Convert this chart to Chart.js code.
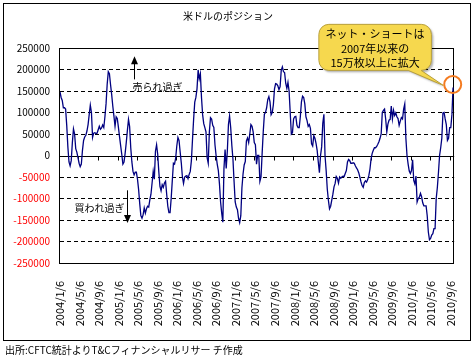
<!DOCTYPE html>
<html lang="ja">
<head>
<meta charset="utf-8">
<title>米ドルのポジション</title>
<script src="https://cdn.jsdelivr.net/npm/chart.js@4.4.0/dist/chart.umd.min.js"></script>
<style>
  html, body { margin: 0; padding: 0; background: #fff; }
  #wrap { position: relative; width: 474px; height: 362px; }
  #chart { position: absolute; left: 0; top: 0; }
  #frame { position: absolute; left: 3px; top: 3px; width: 466px; height: 336px; border: 1px solid #000; pointer-events: none; }
  #source { position: absolute; left: 5px; top: 344px; font: 10px/12px "Noto Sans CJK JP", sans-serif; color: #000; white-space: nowrap; }
</style>
</head>
<body>
<div id="wrap">
  <canvas id="chart" width="474" height="362"></canvas>
  <div id="frame"></div>
  <div id="source">出所:CFTC統計よりT&amp;Cフィナンシャルリサー チ作成</div>
</div>
<script>
// データ (週次、2004/1/6 から)
const startDate = '2004/1/6';
const dateLabels = [
  '2004/1/6', '2004/5/6', '2004/9/6', '2005/1/6', '2005/5/6', '2005/9/6', '2006/1/6',
  '2006/5/6', '2006/9/6', '2007/1/6', '2007/5/6', '2007/9/6', '2008/1/6', '2008/5/6',
  '2008/9/6', '2009/1/6', '2009/5/6', '2009/9/6', '2010/1/6', '2010/5/6', '2010/9/6'
];
const yTicks = [250000, 200000, 150000, 100000, 50000, 0, -50000, -100000, -150000, -200000, -250000];

// 米ドルのネットポジション(枚)
const netPosition = [
  148000, 135000, 128000, 111000, 111000, 108000, 70000, 20000, -15000, -24000,
  -12000, 30000, 62000, 50000, 16000, 8000, -5000, -18000, -26000, -20000,
  12000, 35000, 43000, 47000, 57000, 72000, 95000, 117000, 100000, 42000,
  52000, 53000, 51000, 52000, 60000, 68000, 61000, 64000, 71000, 65000,
  90000, 120000, 165000, 195000, 190000, 165000, 142000, 115000, 92000, 68000,
  90000, 86000, 66000, 44000, 23000, 3000, -20000, -15000, 5000, 30000,
  58000, 84000, 67000, 18000, -15000, -37000, -45000, -39000, -39000, -55000,
  -79000, -112000, -140000, -146000, -138000, -122000, -134000, -124000, -118000, -120000,
  -103000, -90000, -64000, -37000, -55000,
  10000, 25000, 3000, -38000, -72000, -82000, -68000, -74000, -64000, -60000,
  -90000, -118000, -133000, -133000, -100000, -58000, -18000, -20000, -6000, 22000,
  42000, 35000, 8000, -17000, -50000, -65000, -50000, -48000, -47000, -54000,
  -44000, -37000, -12000, 38000, 85000, 124000, 135000, 155000, 199000, 178000,
  190000, 135000, 95000, 74000, 65000, 55000, -5000, -18000, 55000, 88000,
  85000, 70000, 65000, 25000, 0, -20000, -35000, -66000, -108000, -134000,
  -155000, -30000, 14000, -30000, 10000, 72000, 92000, 65000, 24000, -8000,
  -60000, -108000, -120000, -126000, -146000, -156000, -140000, -75000, -43000, -22000,
  -14000, 34000, 41000, 30000, 50000, 72000,
  68000, 55000, 30000, 25000, -20000, 0, 0, -60000, -50000, 5000,
  56000, 96000, 100000, 111000, 130000, 137000, 125000, 95000, 100000, 118000,
  155000, 167000, 166000, 162000, 153000, 160000, 198000, 206000, 195000, 193000,
  168000, 156000, 170000, 150000, 100000, 50000, 53000, 85000, 90000, 91000,
  70000, 65000, 65000, 90000, 125000, 138000, 135000, 120000, 90000, 81000,
  68000, 72000, 63000, 27000, 22000, 46000, 40000, 28000, 12000, -15000,
  -40000, 0, 20000, 75000, 96000, 0, -35000, -78000, -104000, -124000,
  -118000, -104000, -90000, -73000, -65000, -49000, -53000, -64000, -50000, -53000,
  -50000, -48000, -49000, -42000, -35000, -15000,
  -9000, -12000, -18000, -18000, -17000, -18000, -24000, -29000, -33000, -40000,
  -50000, -61000, -70000, -74000, -63000, -59000, -62000, -56000, -47000, -32000,
  -8000, 5000, 12000, 18000, 18000, 21000, 26000, 32000, 40000, 50000,
  100000, 105000, 108000, 85000, 55000, 73000, 82000, 84000, 115000, 85000,
  105000, 93000, 99000, 90000, 86000, 70000, 80000, 88000, 85000, 108000,
  120000, 40000, 0, -20000, -36000, -42000, -35000, -10000, -58000, -66000,
  -48000, -108000, -100000, -97000, -88000, -96000, -110000, -117000, -117000, -117000,
  -140000, -178000, -196000, -193000, -185000, -182000, -170000, -170000, -100000, -75000,
  -40000, 0, 18000, 40000, 99000, 100000, 85000, 72000, 35000, 40000,
  65000, 65000, 95000, 158000
];

const calloutLines = ['ネット・ショートは', '2007年以来の', '15万枚以上に拡大'];

const fontFamily = '"Noto Sans CJK JP", "Noto Sans", sans-serif';
Chart.defaults.font.family = fontFamily;
Chart.defaults.color = '#000';

// 目盛りの位置 (開始日からの週数)
const WEEK = 7 * 24 * 60 * 60 * 1000;
const t0 = new Date(startDate).getTime();
const tickWeeks = dateLabels.map(d => (new Date(d).getTime() - t0) / WEEK);
const points = netPosition.map((v, i) => ({ x: i, y: v }));

// 注記の位置 (x = 週, y = 枚数)
const notes = {
  soldArrow: { week: 66.2, from: 177000, to: 231000 },
  soldText: { week: 64.5, value: 158000 },
  boughtText: { week: 57.5, value: -123000 },
  boughtArrow: { week: 59.5, from: -81000, to: -157000 },
  callout: { left: 230.5, right: 330.7, top: 305000, bottom: 198000, tail1: 310, tail2: 321.5, tipWeek: 341.3, tipValue: 163000 },
  circle: { week: 349.7, value: 165000 }
};

function drawArrow(ctx, px, yFrom, yTo) {
  const dir = yTo < yFrom ? -1 : 1;
  ctx.beginPath();
  ctx.moveTo(px, yFrom);
  ctx.lineTo(px, yTo - dir * 6);
  ctx.stroke();
  ctx.beginPath();
  ctx.moveTo(px, yTo);
  ctx.lineTo(px - 3.5, yTo - dir * 8);
  ctx.lineTo(px + 3.5, yTo - dir * 8);
  ctx.closePath();
  ctx.fill();
}

const overlay = {
  id: 'overlay',
  beforeDatasetsDraw(chart) {
    const { ctx, chartArea: a, scales: { x, y } } = chart;
    ctx.save();
    ctx.strokeStyle = '#000';
    ctx.lineWidth = 1;
    ctx.setLineDash([]);
    ctx.strokeRect(Math.round(a.left) - 0.5, Math.round(a.top) + 0.5,
      Math.round(a.right - a.left), Math.round(a.bottom - a.top));
    // ゼロ線と目盛り
    const y0 = Math.round(y.getPixelForValue(0)) + 0.5;
    ctx.beginPath();
    ctx.moveTo(a.left, y0);
    ctx.lineTo(a.right, y0);
    tickWeeks.forEach(w => {
      const px = Math.round(x.getPixelForValue(w)) - 0.5;
      ctx.moveTo(px, y0);
      ctx.lineTo(px, y0 + 4);
    });
    ctx.stroke();
    ctx.restore();
  },
  afterDraw(chart) {
    const { ctx, scales: { x, y } } = chart;
    ctx.save();
    ctx.strokeStyle = '#000';
    ctx.fillStyle = '#000';
    ctx.lineWidth = 1;

    // 売られ過ぎ / 買われ過ぎ
    let n = notes.soldArrow;
    drawArrow(ctx, Math.round(x.getPixelForValue(n.week)) + 0.5, y.getPixelForValue(n.from), y.getPixelForValue(n.to));
    n = notes.boughtArrow;
    drawArrow(ctx, Math.round(x.getPixelForValue(n.week)) + 0.5, y.getPixelForValue(n.from), y.getPixelForValue(n.to));
    ctx.font = '10px ' + fontFamily;
    ctx.textBaseline = 'middle';
    ctx.textAlign = 'left';
    ctx.fillText('売られ過ぎ', x.getPixelForValue(notes.soldText.week), y.getPixelForValue(notes.soldText.value));
    ctx.textAlign = 'right';
    ctx.fillText('買われ過ぎ', x.getPixelForValue(notes.boughtText.week), y.getPixelForValue(notes.boughtText.value));

    // 吹き出し
    const c = notes.callout;
    const L = x.getPixelForValue(c.left), R = x.getPixelForValue(c.right);
    const T = y.getPixelForValue(c.top), B = y.getPixelForValue(c.bottom);
    const t1 = x.getPixelForValue(c.tail1), t2 = x.getPixelForValue(c.tail2);
    const tipX = x.getPixelForValue(c.tipWeek), tipY = y.getPixelForValue(c.tipValue);
    const r = 10;
    ctx.beginPath();
    ctx.moveTo(L + r, T);
    ctx.lineTo(R - r, T);
    ctx.arcTo(R, T, R, T + r, r);
    ctx.lineTo(R, B - r);
    ctx.arcTo(R, B, R - r, B, r);
    ctx.lineTo(t2, B);
    ctx.lineTo(tipX, tipY);
    ctx.lineTo(t1, B);
    ctx.lineTo(L + r, B);
    ctx.arcTo(L, B, L, B - r, r);
    ctx.lineTo(L, T + r);
    ctx.arcTo(L, T, L + r, T, r);
    ctx.closePath();
    ctx.shadowColor = 'rgba(0,0,0,0.3)';
    ctx.shadowOffsetX = 2;
    ctx.shadowOffsetY = 2;
    ctx.shadowBlur = 2;
    ctx.fillStyle = '#F6D84E';
    ctx.fill();
    ctx.shadowColor = 'transparent';
    ctx.strokeStyle = '#B89F3A';
    ctx.stroke();

    ctx.fillStyle = '#000';
    ctx.font = '11px ' + fontFamily;
    ctx.textAlign = 'center';
    const cx = (L + R) / 2, cy = (T + B) / 2 + 1;
    calloutLines.forEach((line, i) => ctx.fillText(line, cx, cy + (i - 1) * 14.7));

    // 丸印
    ctx.beginPath();
    ctx.arc(x.getPixelForValue(notes.circle.week), y.getPixelForValue(notes.circle.value), 8.5, 0, Math.PI * 2);
    ctx.strokeStyle = '#F47B20';
    ctx.lineWidth = 2;
    ctx.stroke();
    ctx.restore();
  }
};

const ctx = document.getElementById('chart').getContext('2d');
const myChart = new Chart(ctx, {
  type: 'line',
  data: {
    datasets: [{
      label: '米ドル',
      data: points,
      borderColor: '#000080',
      borderWidth: 1.3,
      pointRadius: 0,
      tension: 0,
      fill: false
    }]
  },
  options: {
    responsive: false,
    animation: false,
    layout: { padding: { left: 0, right: 18, top: 0, bottom: 0 } },
    plugins: {
      legend: { display: false },
      tooltip: { enabled: false },
      title: {
        display: true,
        text: '米ドルのポジション',
        color: '#000',
        font: { size: 10, weight: 'normal' },
        padding: { top: 10, bottom: 26 }
      }
    },
    scales: {
      x: {
        type: 'linear',
        min: 0,
        max: 351,
        afterFit: s => { s.height = 99; },
        afterBuildTicks: s => { s.ticks = tickWeeks.map(v => ({ value: v })); },
        grid: { display: false },
        border: { display: false },
        ticks: {
          autoSkip: false,
          minRotation: 90,
          maxRotation: 90,
          padding: 10,
          font: { size: 11 },
          color: '#000',
          callback: (value, index) => dateLabels[index]
        }
      },
      y: {
        min: -250000,
        max: 250000,
        afterFit: s => { s.width = 60; },
        afterBuildTicks: s => { s.ticks = yTicks.map(v => ({ value: v })); },
        grid: {
          drawTicks: false,
          lineWidth: 1,
          color: c => (c.tick && Math.abs(c.tick.value) % 250000 === 0) ? 'rgba(0,0,0,0)' : '#000'
        },
        border: { display: false, dash: [4, 3] },
        ticks: {
          padding: 10,
          font: { size: 10 },
          color: c => c.tick.value < 0 ? '#FF0000' : '#000',
          callback: value => String(value)
        }
      }
    }
  },
  plugins: [overlay]
});
</script>
</body>
</html>
